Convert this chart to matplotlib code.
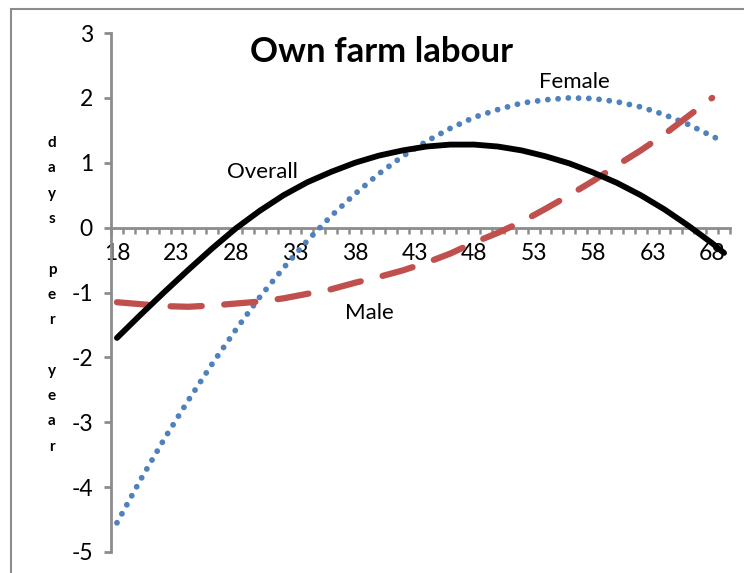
import matplotlib
matplotlib.use("Agg")
import matplotlib.pyplot as plt
from matplotlib.patches import Rectangle

plt.rcParams['font.family'] = ['Lato', 'DejaVu Sans']
plt.rcParams['axes.unicode_minus'] = False

# values (days per year, by age)
ages = [18, 20, 22, 24, 26, 28, 30, 32, 34, 36, 38, 40, 42, 44, 46, 48,
        50, 52, 54, 56, 58, 60, 62, 64, 66, 68, 69]
overall = [-1.70, -1.34, -0.99, -0.65, -0.32, -0.01, 0.26, 0.50, 0.70, 0.86,
           1.00, 1.11, 1.19, 1.25, 1.28, 1.28, 1.25, 1.19, 1.10, 0.99, 0.85,
           0.69, 0.50, 0.28, 0.03, -0.24, -0.39]
female = [-4.55, -3.88, -3.25, -2.66, -2.10, -1.57, -1.07, -0.62, -0.20, 0.18,
          0.52, 0.83, 1.10, 1.33, 1.53, 1.70, 1.82, 1.92, 1.97, 2.00, 1.99,
          1.94, 1.86, 1.74, 1.59, 1.41, 1.32]
male_ages = ages[:-1]
male = [-1.15, -1.18, -1.21, -1.22, -1.20, -1.17, -1.14, -1.09, -1.02, -0.95,
        -0.85, -0.76, -0.66, -0.54, -0.40, -0.23, -0.08, 0.09, 0.29, 0.50,
        0.72, 0.96, 1.19, 1.44, 1.72, 2.00]
xtick_vals = list(range(18, 69, 5))

W, H = 744, 573
fig = plt.figure(figsize=(W / 100, H / 100), dpi=100)
ax = fig.add_axes([111 / W, 21 / H, 619 / W, 519 / H])

grey = '#8c8c8c'

ax.plot(ages, female, color='#4F81BD', lw=4.2, linestyle=(0, (0.01, 1.75)),
        dash_capstyle='round', zorder=3)
ax.plot(male_ages, male, color='#C0504D', lw=4.5, linestyle=(0, (5.0, 3.6)),
        dash_capstyle='round', zorder=3)
ax.plot(ages, overall, color='black', lw=4.2, solid_capstyle='round',
        solid_joinstyle='round', zorder=4)

ax.set_xlim(17.5, 69.5)
ax.set_ylim(-5, 3)

for s in ['top', 'right']:
    ax.spines[s].set_visible(False)
ax.spines['left'].set_color(grey)
ax.spines['left'].set_linewidth(2)
ax.spines['bottom'].set_position(('data', 0))
ax.spines['bottom'].set_color(grey)
ax.spines['bottom'].set_linewidth(2)

ax.set_yticks(range(-5, 4))
ax.tick_params(axis='y', direction='out', length=5, width=2, color=grey,
               labelsize=16.5, pad=8)
ax.set_xticks(xtick_vals)
ax.set_xticks([a + 0.5 for a in range(17, 70)], minor=True)
ax.tick_params(axis='x', which='major', length=0, labelsize=16.5, pad=11)
ax.tick_params(axis='x', which='minor', direction='out', length=4, width=1.8,
               color=grey)

ax.text(30.2, 0.85, 'Overall', fontsize=16, ha='center', va='center')
ax.text(56.4, 2.25, 'Female', fontsize=16, ha='center', va='center')
ax.text(39.2, -1.31, 'Male', fontsize=16, ha='center', va='center')

fig.text(382 / W, 1 - 52 / H, 'Own farm labour', fontsize=25,
         fontweight='bold', ha='center', va='center')

# vertical axis title, one letter per row
letters = ['d', 'a', 'y', 's', '', 'p', 'e', 'r', '', 'y', 'e', 'a', 'r']
for i, ch in enumerate(letters):
    if ch:
        fig.text(52 / W, 1 - (143 + i * 25.3) / H, ch, fontsize=11,
                 fontweight='bold', ha='center', va='center')

# chart frame (clipped at right and bottom in the original)
fig.patches.append(Rectangle((11 / W, -0.1), 2, 1 - 9 / H + 0.1,
                             transform=fig.transFigure, fill=False,
                             edgecolor=grey, lw=1.5))

fig.savefig('out.png', dpi=100)
